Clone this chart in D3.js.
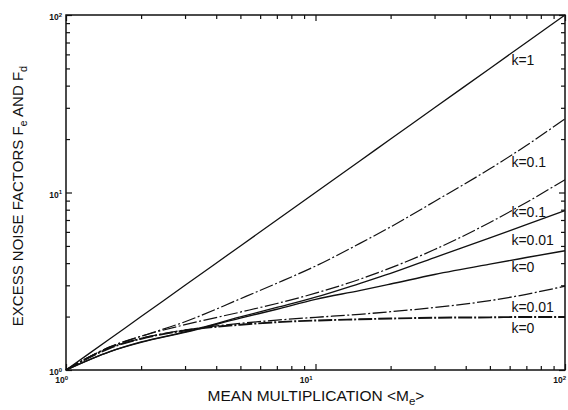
<!DOCTYPE html>
<html>
<head>
<meta charset="utf-8">
<script src="https://cdn.jsdelivr.net/npm/d3@7"></script>
<style>
  body { margin: 0; background: #fff; }
  svg { display: block; font-family: "Liberation Sans", Arial, sans-serif; }
</style>
</head>
<body>
<svg width="568" height="410"></svg>
<script>
// mean multiplication values (x)
var gain = [1, 1.5, 2, 3, 5, 7, 10, 15, 20, 30, 50, 70, 100];

// excess noise factors
var kOne = [1, 1.5, 2, 3, 5, 7, 10, 15, 20, 30, 50, 70, 100];
var feK01 = [1, 1.35, 1.55, 1.8, 2.12, 2.37, 2.71, 3.24, 3.76, 4.77, 6.78, 8.79, 11.8];
var feK001 = [1, 1.335, 1.505, 1.68, 1.83, 1.91, 1.98, 2.06, 2.13, 2.25, 2.46, 2.67, 2.97];
var feK0 = [1, 1.33, 1.5, 1.67, 1.8, 1.86, 1.9, 1.93, 1.95, 1.97, 1.98, 1.99, 1.99];
var fdK01 = [1, 1.35, 1.55, 1.87, 2.52, 3.08, 3.85, 5.15, 6.4, 8.9, 13.6, 18.4, 26];
var fdK001 = [1, 1.27, 1.44, 1.64, 1.99, 2.25, 2.57, 3.07, 3.5, 4.3, 5.55, 6.6, 7.9];
var fdK0 = [1, 1.27, 1.43, 1.63, 1.96, 2.2, 2.5, 2.8, 3.05, 3.45, 3.95, 4.3, 4.7];

// curve labels, anchored in data units
var labelText = ["k=1", "k=0.1", "k=0.1", "k=0.01", "k=0", "k=0.01", "k=0"];
var labelF = [52, 13.9, 7.3, 5.05, 3.57, 2.12, 1.62];
var labelM = 61;

var decades = [1, 10, 100];
var decadeExp = ["0", "1", "2"];

var svg = d3.select("svg"),
	margin = { top: 15, right: 3, bottom: 40, left: 66 },
	width = 568 - margin.left - margin.right,
	height = 410 - margin.top - margin.bottom;

var x = d3.scaleLog().domain([1, 100]).range([margin.left, margin.left + width]);
var y = d3.scaleLog().domain([1, 100]).range([margin.top + height, margin.top]);

var minor = [];
[1, 10].forEach(function(d) {
	for (var i = 2; i <= 9; i++) minor.push(d * i);
});

var g = svg.append("g");

// inward ticks on all four sides
function ticks(axisFn, scale, vals, size, tx) {
	g.append("g")
		.attr("transform", tx)
		.call(axisFn(scale).tickValues(vals).tickSize(-size).tickFormat(""))
		.call(function(s) {
			s.select(".domain").remove();
			s.selectAll("line").attr("stroke", "#111").attr("stroke-width", 1.2);
		});
}
var bottomY = margin.top + height, rightX = margin.left + width;
ticks(d3.axisBottom, x, minor, 4, "translate(0," + bottomY + ")");
ticks(d3.axisBottom, x, decades, 6, "translate(0," + bottomY + ")");
ticks(d3.axisTop, x, minor, 4, "translate(0," + margin.top + ")");
ticks(d3.axisTop, x, decades, 6, "translate(0," + margin.top + ")");
ticks(d3.axisLeft, y, minor, 4, "translate(" + margin.left + ",0)");
ticks(d3.axisLeft, y, decades, 6, "translate(" + margin.left + ",0)");
ticks(d3.axisRight, y, minor, 4, "translate(" + rightX + ",0)");
ticks(d3.axisRight, y, decades, 6, "translate(" + rightX + ",0)");

g.append("rect")
	.attr("x", margin.left)
	.attr("y", margin.top)
	.attr("width", width)
	.attr("height", height)
	.attr("fill", "none")
	.attr("stroke", "#111")
	.attr("stroke-width", 1.5);

// tick labels, 10 with superscript
function powLabel(sel, exp) {
	sel.append("tspan").text("10");
	sel.append("tspan").attr("dy", -3.5).attr("font-size", 6).text(exp);
}
decades.forEach(function(d, i) {
	var t = g.append("text")
		.attr("x", x(d) - 3)
		.attr("y", bottomY + 13)
		.attr("text-anchor", "end")
		.attr("font-size", 8.5)
		.attr("font-weight", "bold")
		.attr("fill", "#111");
	powLabel(t, decadeExp[i]);
	if (i === 2) t.attr("x", x(d) + 1);
	if (i === 0) t.attr("x", x(d) + 2);
	var ty = g.append("text")
		.attr("x", margin.left - 4)
		.attr("y", y(d) + 5)
		.attr("text-anchor", "end")
		.attr("font-size", 8.5)
		.attr("font-weight", "bold")
		.attr("fill", "#111");
	powLabel(ty, decadeExp[i]);
});

// curves
var line = d3.line()
	.x(function(d) { return x(d[0]); })
	.y(function(d) { return y(d[1]); })
	.curve(d3.curveMonotoneX);

var curves = [
	{ v: kOne, dash: null, w: 1.3 },
	{ v: fdK01, dash: "14,2.5,2,2.5", w: 1.2 },
	{ v: feK01, dash: "14,2.5,2,2.5", w: 1.2 },
	{ v: fdK001, dash: null, w: 1.3 },
	{ v: fdK0, dash: null, w: 1.4 },
	{ v: feK001, dash: "14,2.5,2,2.5", w: 1.3 },
	{ v: feK0, dash: "14,2,2,2", w: 1.9 }
];

g.selectAll(".curve")
	.data(curves)
	.enter()
	.append("path")
	.attr("class", "curve")
	.attr("d", function(d) {
		return line(gain.map(function(m, i) { return [m, d.v[i]]; }));
	})
	.attr("fill", "none")
	.attr("stroke", "#111")
	.attr("stroke-width", function(d) { return d.w; })
	.attr("stroke-dasharray", function(d) { return d.dash; });

g.selectAll(".klabel")
	.data(labelText)
	.enter()
	.append("text")
	.attr("class", "klabel")
	.attr("x", x(labelM))
	.attr("y", function(d, i) { return y(labelF[i]); })
	.attr("font-size", 14)
	.attr("fill", "#111")
	.text(function(d) { return d; });

// axis titles
var xt = svg.append("text")
	.attr("x", 316)
	.attr("y", 401)
	.attr("text-anchor", "middle")
	.attr("font-size", 15.5)
	.attr("fill", "#111");
xt.append("tspan").text("MEAN MULTIPLICATION <M");
xt.append("tspan").attr("font-size", 11.5).attr("dy", 3.5).text("e");
xt.append("tspan").attr("dy", -3.5).text(">");

var yt = svg.append("text")
	.attr("transform", "translate(23,196) rotate(-90)")
	.attr("text-anchor", "middle")
	.attr("font-size", 15)
	.attr("fill", "#111");
yt.append("tspan").text("EXCESS NOISE FACTORS F");
yt.append("tspan").attr("font-size", 11).attr("dy", 3.5).text("e");
yt.append("tspan").attr("dy", -3.5).text(" AND F");
yt.append("tspan").attr("font-size", 11).attr("dy", 3.5).text("d");
</script>
</body>
</html>
